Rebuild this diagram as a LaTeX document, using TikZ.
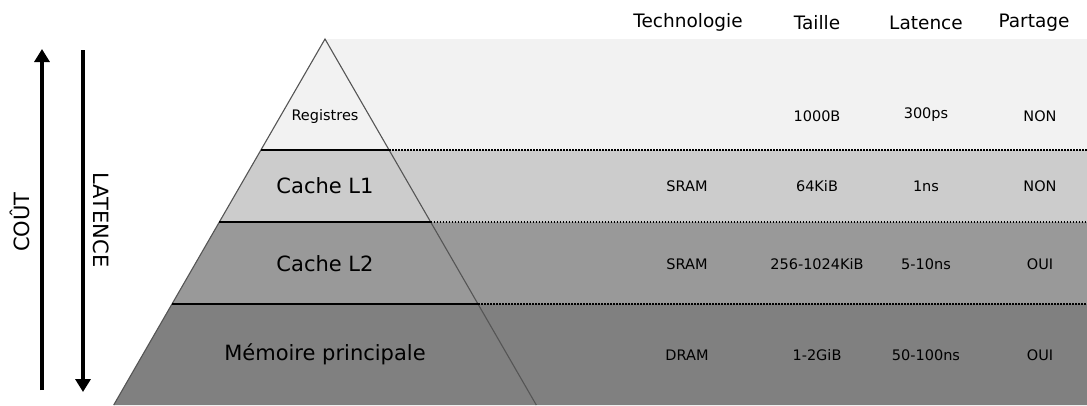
\documentclass[tikz,border=0pt]{standalone}
\usepackage{fontspec}
\setmainfont{DejaVu Sans}
\usetikzlibrary{arrows.meta}
\definecolor{regfill}{HTML}{F2F2F2}
\definecolor{lonefill}{HTML}{CCCCCC}
\definecolor{ltwofill}{HTML}{999999}
\definecolor{memfill}{HTML}{808080}
\definecolor{edgegray}{HTML}{555555}
\begin{document}
\begin{tikzpicture}[x=1pt,y=-1pt,
    level/.style={font=\fontsize{21}{24}\selectfont},
    small/.style={font=\fontsize{14.5}{17}\selectfont},
    head/.style={font=\fontsize{18.5}{22}\selectfont, anchor=base},
    cut/.style={line width=1.1pt},
    dots/.style={line width=1.6pt, dash pattern=on 1.5pt off 1.5pt},
    bigarrow/.style={line width=4.5pt, -{Triangle[length=13pt,width=15pt]}}]
    \useasboundingbox (0,0) rectangle (1087,405);
    \coordinate (apex) at (325,39);
    \coordinate (la) at (260.9,150);
    \coordinate (ra) at (389.1,150);
    \coordinate (lb) at (219.3,222);
    \coordinate (rb) at (430.7,222);
    \coordinate (lc) at (172,304);
    \coordinate (rc) at (478,304);
    \coordinate (ld) at (113.7,405);
    \coordinate (rd) at (536.3,405);
    \fill [regfill] (apex) -- (1087,39) -- (1087,150) -- (la) -- cycle;
    \fill [lonefill] (la) -- (1087,150) -- (1087,222) -- (lb) -- cycle;
    \fill [ltwofill] (lb) -- (1087,222) -- (1087,304) -- (lc) -- cycle;
    \fill [memfill] (lc) -- (1087,304) -- (1087,405) -- (ld) -- cycle;
    \draw [edgegray, line width=1.1pt] (ld) -- (apex) -- (rd);
    \draw [cut] (la) -- (ra);
    \draw [cut] (lb) -- (rb);
    \draw [cut] (lc) -- (rc);
    \draw [dots] (ra) -- (1087,150);
    \draw [dots] (rb) -- (1087,222);
    \draw [dots] (rc) -- (1087,304);
    \node [small] (reg) at (325,116) {Registres};
    \node [level] (lone) at (325,186) {Cache L1};
    \node [level] (ltwo) at (325,264) {Cache L2};
    \node [level] (mem) at (325,354) {Mémoire principale};
    \node [head] (techh) at (688,27) {Technologie};
    \node [head] (sizeh) at (817,29) {Taille};
    \node [head] (lath) at (926,29) {Latence};
    \node [head] (shareh) at (1034,27) {Partage};
    \node [small] (regsize) at (817,116) {1000B};
    \node [small] (reglat) at (926,115) {300ps};
    \node [small] (regshare) at (1040,116) {NON};
    \node [small] (lonetech) at (687,186) {SRAM};
    \node [small] (lonesize) at (817,186) {64KiB};
    \node [small] (lonelat) at (926,186) {1ns};
    \node [small] (loneshare) at (1040,186) {NON};
    \node [small] (ltwotech) at (687,264) {SRAM};
    \node [small] (ltwosize) at (817,264) {256-1024KiB};
    \node [small] (ltwolat) at (926,264) {5-10ns};
    \node [small] (ltwoshare) at (1040,264) {OUI};
    \node [small] (memtech) at (687,355) {DRAM};
    \node [small] (memsize) at (817,355) {1-2GiB};
    \node [small] (memlat) at (926,355) {50-100ns};
    \node [small] (memshare) at (1040,355) {OUI};
    \coordinate (costlow) at (42,390);
    \coordinate (costhigh) at (42,49);
    \coordinate (lathigh) at (83,50);
    \coordinate (latlow) at (83,392);
    \draw [bigarrow] (costlow) -- (costhigh);
    \draw [bigarrow] (lathigh) -- (latlow);
    \node [level, rotate=90] (cost) at (20,222) {COÛT};
    \node [level, rotate=-90] (latency) at (101,220) {LATENCE};
\end{tikzpicture}
\end{document}
